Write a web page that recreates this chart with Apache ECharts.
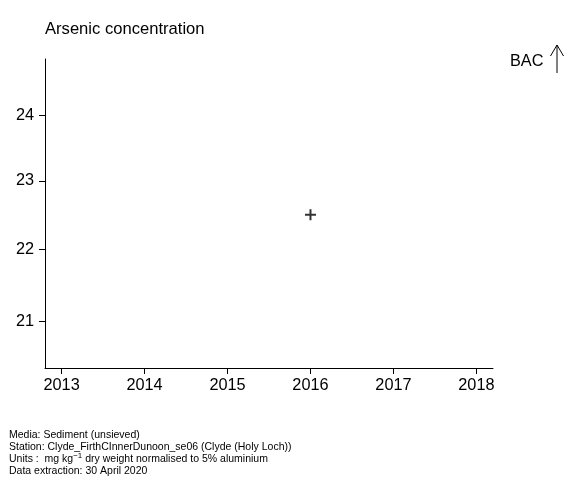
<!DOCTYPE html>
<html>
<head>
<meta charset="utf-8">
<script src="https://cdn.jsdelivr.net/npm/echarts@6/dist/echarts.min.js"></script>
<style>html,body{margin:0;padding:0;background:#fff}#c{width:580px;height:480px}</style>
</head>
<body>
<div id="c"></div>
<script>
const years = [2016];
const values = [22.5];
const xTicks = [2013, 2014, 2015, 2016, 2017, 2018];
const yTicks = [21, 22, 23, 24];
const xRange = [2012.8, 2018.2];
const yRange = [20.37, 24.89];
const titleText = 'Arsenic concentration';
const footerLines = [
  'Media: Sediment (unsieved)',
  'Station: Clyde_FirthCInnerDunoon_se06 (Clyde (Holy Loch))',
  'Data extraction: 30 April 2020'
];

const FONT = '"Liberation Sans", Arial, sans-serif';
const lg = v => Math.log10(v);
const chart = echarts.init(document.getElementById('c'), null, {renderer: 'canvas'});

const option = {
  animation: false,
  backgroundColor: '#fff',
  grid: {left: 45, top: 59, width: 448, height: 309, containLabel: false},
  xAxis: {
    type: 'value', min: xRange[0], max: xRange[1],
    axisLine: {show: true, lineStyle: {color: '#000', width: 1}},
    axisTick: {show: true, length: 6, customValues: xTicks, lineStyle: {color: '#000'}},
    axisLabel: {customValues: xTicks, color: '#000', fontSize: 16.3, fontFamily: FONT, margin: 10, formatter: v => String(Math.round(v))},
    splitLine: {show: false}
  },
  yAxis: {
    type: 'value', min: lg(yRange[0]), max: lg(yRange[1]),
    axisLine: {show: true, lineStyle: {color: '#000', width: 1}},
    axisTick: {show: true, length: 6, customValues: yTicks.map(lg), lineStyle: {color: '#000'}},
    axisLabel: {customValues: yTicks.map(lg), color: '#000', fontSize: 16.3, fontFamily: FONT, margin: 11, formatter: v => String(Math.round(Math.pow(10, v)))},
    splitLine: {show: false}
  },
  series: [{
    type: 'scatter',
    data: years.map((y, i) => [y, lg(values[i])]),
    symbol: 'path://M5,0 L5,10 M0,5 L10,5',
    symbolSize: 11,
    itemStyle: {color: 'rgba(0,0,0,0)', borderColor: '#000', borderWidth: 2},
    silent: true
  }],
  graphic: [
    {type: 'text', left: 45, top: 21, style: {text: titleText, fontSize: 16.6, fontFamily: FONT, fill: '#000'}},
    {type: 'text', left: 510, top: 54, style: {text: 'BAC', fontSize: 16.3, fontFamily: FONT, fill: '#000'}},
    {type: 'line', shape: {x1: 557, y1: 73, x2: 557, y2: 45}, style: {stroke: '#000', lineWidth: 1}},
    {type: 'polyline', shape: {points: [[550.5, 56], [557, 45], [563.5, 56]]}, style: {stroke: '#000', lineWidth: 1, fill: null}},
    {type: 'text', left: 9, top: 429.5, style: {text: footerLines[0], fontSize: 10.5, fontFamily: FONT, fill: '#000'}},
    {type: 'text', left: 9, top: 441.5, style: {text: footerLines[1], fontSize: 10.5, fontFamily: FONT, fill: '#000'}},
    {type: 'text', left: 9, top: 452, style: {
      text: 'Units :  mg kg{sup|−1} dry weight normalised to 5% aluminium',
      fontSize: 10.5, fontFamily: FONT, fill: '#000',
      rich: {sup: {fontSize: 8, fontFamily: FONT, fill: '#000', verticalAlign: 'top', padding: [0, 0, 6, 0]}}
    }},
    {type: 'text', left: 9, top: 465.5, style: {text: footerLines[2], fontSize: 10.5, fontFamily: FONT, fill: '#000'}}
  ]
};
chart.setOption(option);
</script>
</body>
</html>
